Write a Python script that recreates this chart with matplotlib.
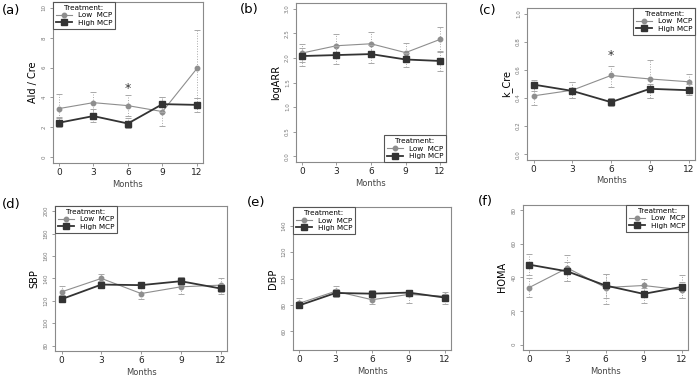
import numpy as np
import matplotlib.pyplot as plt

months = [0, 3, 6, 9, 12]

# (a) Ald / Cre
ald_low = [3.25, 3.65, 3.45, 3.05, 5.95]
ald_low_hi = [4.2, 4.35, 4.15, 4.0, 8.5]
ald_low_lo = [2.6, 2.95, 2.75, 2.1, 3.95]
ald_high = [2.3, 2.75, 2.25, 3.55, 3.5]
ald_high_hi = [2.7, 3.2, 2.6, 4.0, 3.95]
ald_high_lo = [2.0, 2.35, 1.95, 3.05, 3.05]

# (b) logARR
arr_low = [2.10, 2.25, 2.29, 2.11, 2.38]
arr_low_hi = [2.28, 2.48, 2.52, 2.30, 2.64]
arr_low_lo = [1.92, 2.02, 2.06, 1.92, 2.12]
arr_high = [2.04, 2.06, 2.08, 1.97, 1.94]
arr_high_hi = [2.20, 2.24, 2.26, 2.10, 2.14]
arr_high_lo = [1.83, 1.88, 1.89, 1.81, 1.74]

# (c) k_Cre
kc_low = [0.415, 0.455, 0.56, 0.535, 0.515]
kc_low_hi = [0.49, 0.51, 0.63, 0.67, 0.57]
kc_low_lo = [0.35, 0.40, 0.48, 0.40, 0.455]
kc_high = [0.495, 0.45, 0.37, 0.465, 0.455]
kc_high_hi = [0.53, 0.51, 0.40, 0.50, 0.50]
kc_high_lo = [0.45, 0.40, 0.34, 0.40, 0.42]

# (d) SBP
sbp_low = [128, 140, 126.5, 132.5, 134]
sbp_low_hi = [133, 144, 131, 141, 140]
sbp_low_lo = [124, 136, 121.5, 126, 128]
sbp_high = [121.5, 134.5, 134, 137.5, 131]
sbp_high_hi = [125, 138, 136.5, 141, 135]
sbp_high_lo = [118.5, 131, 131, 134, 126]

# (e) DBP
dbp_low = [81.3, 90.4, 84, 88, 86.6]
dbp_low_hi = [85, 94.4, 88, 91, 90]
dbp_low_lo = [78, 86.5, 80.5, 81.3, 83]
dbp_high = [79.7, 89.1, 88.6, 89.4, 85.6]
dbp_high_hi = [82.5, 92, 91, 91.5, 88.5]
dbp_high_lo = [77.5, 86, 86, 87, 81]

# (f) HOMA
homa_low = [34, 45.6, 34, 35.2, 32.6]
homa_low_hi = [39.6, 53.6, 42, 39.2, 37.5]
homa_low_lo = [28.6, 37.6, 28, 31, 27.6]
homa_high = [47.6, 43.6, 35.2, 30.2, 34.4]
homa_high_hi = [54.2, 49, 42, 34, 41.6]
homa_high_lo = [41.6, 37.6, 24.2, 24.6, 28]

LOW_C = '#8e8e8e'
HIGH_C = '#333333'
FRAME_C = '#8a8a8a'


def draw_series(ax, y, hi, lo, color, marker, ms, lw, label):
    y = np.array(y)
    err = [y - np.array(lo), np.array(hi) - y]
    eb = ax.errorbar(months, y, yerr=err, fmt='none', ecolor='#a8a8a8',
                     elinewidth=0.7, capsize=2, capthick=0.7)
    eb[2][0].set_linestyle(':')
    ax.plot(months, y, color=color, lw=lw, marker=marker, ms=ms,
            mfc=color, mec=color, label=label)


def panel(rect, letter, letter_xy, ylabel, low, high, ylim, yticks, fmt,
          legend_loc, star=None):
    ax = fig.add_axes(rect)
    draw_series(ax, *low, color=LOW_C, marker='o', ms=3.2, lw=0.8, label='Low  MCP')
    draw_series(ax, *high, color=HIGH_C, marker='s', ms=4, lw=1.3, label='High MCP')
    pad = (ylim[1] - ylim[0]) * 0.04
    ax.set_ylim(ylim[0] - pad, ylim[1] + pad)
    ax.set_xlim(-0.5, 12.5)
    ax.set_xticks(months)
    ax.set_yticks(yticks)
    ax.set_yticklabels([fmt.format(t) for t in yticks], rotation=90,
                       va='center', fontsize=4, color='#777777')
    ax.tick_params(axis='x', labelsize=6.5, length=2.5, width=0.6, color=FRAME_C,
                   pad=1, labelcolor='#222222')
    ax.tick_params(axis='y', length=2.5, width=0.6, color=FRAME_C, pad=2)
    for s in ax.spines.values():
        s.set_color(FRAME_C)
        s.set_linewidth(0.8)
    ax.set_ylabel(ylabel, fontsize=7, labelpad=3)
    ax.set_xlabel('Months', fontsize=6, color='#444444', labelpad=2)
    if star is not None:
        ax.text(star[0], star[1], '*', ha='center', va='center', fontsize=9,
                color='#333333')
    leg = ax.legend(loc=legend_loc, title='Treatment:', fontsize=5.2,
                    title_fontsize=5.2, fancybox=False, framealpha=1,
                    edgecolor='#555555', borderaxespad=0, handlelength=2.2,
                    labelspacing=0.2, borderpad=0.4)
    leg.get_frame().set_linewidth(0.8)
    fig.text(letter_xy[0], letter_xy[1], letter, fontsize=9.5, va='center')
    return ax


fig = plt.figure(figsize=(7, 3.77), dpi=100)

panel([0.0757, 0.5676, 0.214, 0.427], '(a)', (0.003, 0.972), 'Ald / Cre',
      (ald_low, ald_low_hi, ald_low_lo), (ald_high, ald_high_hi, ald_high_lo),
      (0, 10), [0, 2, 4, 6, 8, 10], '{:.0f}', 'upper left', star=(6, 4.6))
panel([0.423, 0.570, 0.214, 0.422], '(b)', (0.343, 0.975), 'logARR',
      (arr_low, arr_low_hi, arr_low_lo), (arr_high, arr_high_hi, arr_high_lo),
      (0, 3), [0, 0.5, 1, 1.5, 2, 2.5, 3], '{:.1f}', 'lower right')
panel([0.753, 0.576, 0.24, 0.403], '(c)', (0.684, 0.972), 'k_Cre',
      (kc_low, kc_low_hi, kc_low_lo), (kc_high, kc_high_hi, kc_high_lo),
      (0, 1), [0, 0.2, 0.4, 0.6, 0.8, 1.0], '{:.1f}', 'upper right', star=(6, 0.70))
panel([0.0786, 0.069, 0.246, 0.385], '(d)', (0.003, 0.458), 'SBP',
      (sbp_low, sbp_low_hi, sbp_low_lo), (sbp_high, sbp_high_hi, sbp_high_lo),
      (80, 200), [80, 100, 120, 140, 160, 180, 200], '{:.0f}', 'upper left')
panel([0.4186, 0.0716, 0.226, 0.379], '(e)', (0.352, 0.462), 'DBP',
      (dbp_low, dbp_low_hi, dbp_low_lo), (dbp_high, dbp_high_hi, dbp_high_lo),
      (50, 150), [60, 80, 100, 120, 140], '{:.0f}', 'upper left')
panel([0.747, 0.0716, 0.236, 0.385], '(f)', (0.682, 0.466), 'HOMA',
      (homa_low, homa_low_hi, homa_low_lo), (homa_high, homa_high_hi, homa_high_lo),
      (0, 80), [0, 20, 40, 60, 80], '{:.0f}', 'upper right')

fig.savefig('out.png', dpi=100)
